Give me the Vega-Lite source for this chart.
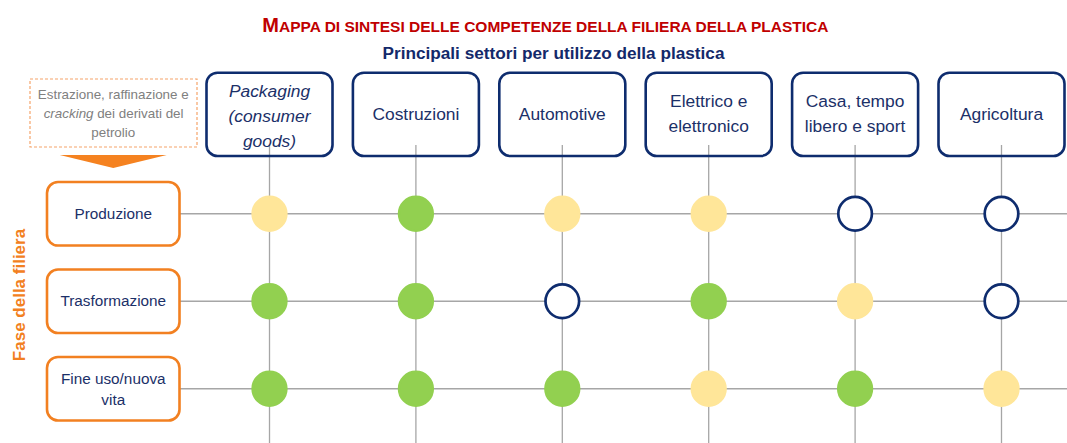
{
  "$schema": "https://vega.github.io/schema/vega-lite/v6.json",
  "width": 887,
  "height": 298,
  "autosize": "none",
  "padding": {"left": 180, "top": 145, "right": 0, "bottom": 0},
  "background": "white",
  "config": {"view": {"stroke": null}, "font": "Liberation Sans, Arial, sans-serif"},
  "datasets": {
    "settori": [
      {"settore": "Packaging", "etichetta": "Packaging\n(consumer\ngoods)", "corsivo": true},
      {"settore": "Costruzioni", "etichetta": "Costruzioni", "corsivo": false},
      {"settore": "Automotive", "etichetta": "Automotive", "corsivo": false},
      {"settore": "Elettrico e elettronico", "etichetta": "Elettrico e\nelettronico", "corsivo": false},
      {"settore": "Casa, tempo libero e sport", "etichetta": "Casa, tempo\nlibero e sport", "corsivo": false},
      {"settore": "Agricoltura", "etichetta": "Agricoltura", "corsivo": false}
    ],
    "fasi": [
      {"fase": "Produzione", "etichetta": "Produzione"},
      {"fase": "Trasformazione", "etichetta": "Trasformazione"},
      {"fase": "Fine uso/nuova vita", "etichetta": "Fine uso/nuova\nvita"}
    ],
    "cerchi": [
      {"fase": "Produzione", "settore": "Packaging", "livello": "Media"},
      {"fase": "Produzione", "settore": "Costruzioni", "livello": "Alta"},
      {"fase": "Produzione", "settore": "Automotive", "livello": "Media"},
      {"fase": "Produzione", "settore": "Elettrico e elettronico", "livello": "Media"},
      {"fase": "Produzione", "settore": "Casa, tempo libero e sport", "livello": "Bassa"},
      {"fase": "Produzione", "settore": "Agricoltura", "livello": "Bassa"},
      {"fase": "Trasformazione", "settore": "Packaging", "livello": "Alta"},
      {"fase": "Trasformazione", "settore": "Costruzioni", "livello": "Alta"},
      {"fase": "Trasformazione", "settore": "Automotive", "livello": "Bassa"},
      {"fase": "Trasformazione", "settore": "Elettrico e elettronico", "livello": "Alta"},
      {"fase": "Trasformazione", "settore": "Casa, tempo libero e sport", "livello": "Media"},
      {"fase": "Trasformazione", "settore": "Agricoltura", "livello": "Bassa"},
      {"fase": "Fine uso/nuova vita", "settore": "Packaging", "livello": "Alta"},
      {"fase": "Fine uso/nuova vita", "settore": "Costruzioni", "livello": "Alta"},
      {"fase": "Fine uso/nuova vita", "settore": "Automotive", "livello": "Alta"},
      {"fase": "Fine uso/nuova vita", "settore": "Elettrico e elettronico", "livello": "Media"},
      {"fase": "Fine uso/nuova vita", "settore": "Casa, tempo libero e sport", "livello": "Alta"},
      {"fase": "Fine uso/nuova vita", "settore": "Agricoltura", "livello": "Media"}
    ]
  },
  "resolve": {"scale": {"x": "independent", "y": "independent"}},
  "layer": [
    {
      "data": {"name": "settori"},
      "mark": {"type": "rule", "color": "#A6A6A6", "strokeWidth": 1.3},
      "encoding": {
        "x": {"field": "settore", "type": "nominal", "axis": null,
              "scale": {"type": "band", "domain": ["Packaging", "Costruzioni", "Automotive", "Elettrico e elettronico", "Casa, tempo libero e sport", "Agricoltura"], "range": [26.5, 884.5], "paddingInner": 0.1393, "paddingOuter": 0}}
      }
    },
    {
      "data": {"name": "fasi"},
      "mark": {"type": "rule", "color": "#A6A6A6", "strokeWidth": 1.3},
      "encoding": {
        "y": {"field": "fase", "type": "nominal", "axis": null,
              "scale": {"type": "band", "domain": ["Produzione", "Trasformazione", "Fine uso/nuova vita"], "range": [37, 275.5], "paddingInner": 0.274, "paddingOuter": 0}}
      }
    },
    {
      "data": {"name": "settori"},
      "mark": {"type": "rect", "fill": "transparent", "stroke": "#0E2C6E", "strokeWidth": 2.6, "cornerRadius": 11},
      "encoding": {
        "x": {"field": "settore", "type": "nominal", "axis": null,
              "scale": {"type": "band", "domain": ["Packaging", "Costruzioni", "Automotive", "Elettrico e elettronico", "Casa, tempo libero e sport", "Agricoltura"], "range": [26.5, 884.5], "paddingInner": 0.1393, "paddingOuter": 0}},
        "y": {"datum": "Settori", "type": "nominal", "axis": null,
              "scale": {"type": "band", "domain": ["Settori"], "range": [-72.3, 11], "paddingInner": 0, "paddingOuter": 0}}
      }
    },
    {
      "data": {"name": "settori"},
      "transform": [{"filter": "datum.corsivo == false && indexof(datum.etichetta, '\\n') < 0"}],
      "mark": {"type": "text", "color": "#1B3068", "fontSize": 17.4, "lineHeight": 23, "lineBreak": "\n", "align": "center", "baseline": "middle", "dy": 1},
      "encoding": {
        "x": {"field": "settore", "type": "nominal", "axis": null,
              "scale": {"type": "band", "domain": ["Packaging", "Costruzioni", "Automotive", "Elettrico e elettronico", "Casa, tempo libero e sport", "Agricoltura"], "range": [26.5, 884.5], "paddingInner": 0.1393, "paddingOuter": 0}},
        "y": {"datum": "Settori", "type": "nominal", "axis": null,
              "scale": {"type": "band", "domain": ["Settori"], "range": [-72.3, 11], "paddingInner": 0, "paddingOuter": 0}},
        "text": {"field": "etichetta"}
      }
    },
    {
      "data": {"name": "settori"},
      "transform": [{"filter": "datum.corsivo == false && indexof(datum.etichetta, '\\n') >= 0"}],
      "mark": {"type": "text", "color": "#1B3068", "fontSize": 17.4, "lineHeight": 25, "lineBreak": "\n", "align": "center", "baseline": "middle", "dy": -12},
      "encoding": {
        "x": {"field": "settore", "type": "nominal", "axis": null,
              "scale": {"type": "band", "domain": ["Packaging", "Costruzioni", "Automotive", "Elettrico e elettronico", "Casa, tempo libero e sport", "Agricoltura"], "range": [26.5, 884.5], "paddingInner": 0.1393, "paddingOuter": 0}},
        "y": {"datum": "Settori", "type": "nominal", "axis": null,
              "scale": {"type": "band", "domain": ["Settori"], "range": [-72.3, 11], "paddingInner": 0, "paddingOuter": 0}},
        "text": {"field": "etichetta"}
      }
    },
    {
      "data": {"name": "settori"},
      "transform": [{"filter": "datum.corsivo == true"}],
      "mark": {"type": "text", "color": "#1B3068", "fontSize": 17.4, "fontStyle": "italic", "lineHeight": 25, "lineBreak": "\n", "align": "center", "baseline": "middle", "dy": -22},
      "encoding": {
        "x": {"field": "settore", "type": "nominal", "axis": null,
              "scale": {"type": "band", "domain": ["Packaging", "Costruzioni", "Automotive", "Elettrico e elettronico", "Casa, tempo libero e sport", "Agricoltura"], "range": [26.5, 884.5], "paddingInner": 0.1393, "paddingOuter": 0}},
        "y": {"datum": "Settori", "type": "nominal", "axis": null,
              "scale": {"type": "band", "domain": ["Settori"], "range": [-72.3, 11], "paddingInner": 0, "paddingOuter": 0}},
        "text": {"field": "etichetta"}
      }
    },
    {
      "data": {"name": "fasi"},
      "mark": {"type": "rect", "fill": "white", "stroke": "#F28021", "strokeWidth": 2.6, "cornerRadius": 11},
      "encoding": {
        "x": {"datum": "Fase", "type": "nominal", "axis": null,
              "scale": {"type": "band", "domain": ["Fase"], "range": [-133, -0.5], "paddingInner": 0, "paddingOuter": 0}},
        "y": {"field": "fase", "type": "nominal", "axis": null,
              "scale": {"type": "band", "domain": ["Produzione", "Trasformazione", "Fine uso/nuova vita"], "range": [37, 275.5], "paddingInner": 0.274, "paddingOuter": 0}}
      }
    },
    {
      "data": {"name": "fasi"},
      "transform": [{"filter": "indexof(datum.etichetta, '\\n') < 0"}],
      "mark": {"type": "text", "color": "#1B3068", "fontSize": 15.3, "lineHeight": 21, "lineBreak": "\n", "align": "center", "baseline": "middle"},
      "encoding": {
        "x": {"datum": "Fase", "type": "nominal", "axis": null,
              "scale": {"type": "band", "domain": ["Fase"], "range": [-133, -0.5], "paddingInner": 0, "paddingOuter": 0}},
        "y": {"field": "fase", "type": "nominal", "axis": null,
              "scale": {"type": "band", "domain": ["Produzione", "Trasformazione", "Fine uso/nuova vita"], "range": [37, 275.5], "paddingInner": 0.274, "paddingOuter": 0}},
        "text": {"field": "etichetta"}
      }
    },
    {
      "data": {"name": "fasi"},
      "transform": [{"filter": "indexof(datum.etichetta, '\\n') >= 0"}],
      "mark": {"type": "text", "color": "#1B3068", "fontSize": 15.3, "lineHeight": 21, "lineBreak": "\n", "align": "center", "baseline": "middle", "dy": -10},
      "encoding": {
        "x": {"datum": "Fase", "type": "nominal", "axis": null,
              "scale": {"type": "band", "domain": ["Fase"], "range": [-133, -0.5], "paddingInner": 0, "paddingOuter": 0}},
        "y": {"field": "fase", "type": "nominal", "axis": null,
              "scale": {"type": "band", "domain": ["Produzione", "Trasformazione", "Fine uso/nuova vita"], "range": [37, 275.5], "paddingInner": 0.274, "paddingOuter": 0}},
        "text": {"field": "etichetta"}
      }
    },
    {
      "data": {"name": "cerchi"},
      "mark": {"type": "point", "shape": "circle", "size": 1130, "strokeWidth": 2.7, "opacity": 1, "fillOpacity": 1, "filled": true},
      "encoding": {
        "x": {"field": "settore", "type": "nominal", "axis": null,
              "scale": {"type": "band", "domain": ["Packaging", "Costruzioni", "Automotive", "Elettrico e elettronico", "Casa, tempo libero e sport", "Agricoltura"], "range": [26.5, 884.5], "paddingInner": 0.1393, "paddingOuter": 0}},
        "y": {"field": "fase", "type": "nominal", "axis": null,
              "scale": {"type": "band", "domain": ["Produzione", "Trasformazione", "Fine uso/nuova vita"], "range": [37, 275.5], "paddingInner": 0.274, "paddingOuter": 0}},
        "fill": {"field": "livello", "type": "nominal", "legend": null,
                 "scale": {"domain": ["Alta", "Media", "Bassa"], "range": ["#92D050", "#FFE699", "#FFFFFF"]}},
        "stroke": {"field": "livello", "type": "nominal", "legend": null,
                   "scale": {"domain": ["Alta", "Media", "Bassa"], "range": ["#92D050", "#FFE699", "#0E2C6E"]}}
      }
    },
    {
      "data": {"values": [{"testo": "Fase della filiera"}]},
      "mark": {"type": "text", "color": "#F28021", "fontSize": 17, "fontWeight": "bold", "angle": 270, "align": "center", "baseline": "middle"},
      "encoding": {
        "x": {"datum": "asse", "type": "nominal", "axis": null,
              "scale": {"type": "band", "domain": ["asse"], "range": [-162, -158], "paddingInner": 0, "paddingOuter": 0}},
        "y": {"datum": "asse", "type": "nominal", "axis": null,
              "scale": {"type": "band", "domain": ["asse"], "range": [148, 152], "paddingInner": 0, "paddingOuter": 0}},
        "text": {"field": "testo"}
      }
    },
    {
      "data": {"values": [{"elemento": "nota"}]},
      "mark": {"type": "rect", "fill": "transparent", "stroke": "#F5A46A", "strokeWidth": 1.2, "strokeDash": [3, 2]},
      "encoding": {
        "x": {"datum": "nota", "type": "nominal", "axis": null,
              "scale": {"type": "band", "domain": ["nota"], "range": [-150, 17], "paddingInner": 0, "paddingOuter": 0}},
        "y": {"datum": "nota", "type": "nominal", "axis": null,
              "scale": {"type": "band", "domain": ["nota"], "range": [-66, 2], "paddingInner": 0, "paddingOuter": 0}}
      }
    },
    {
      "data": {"values": [{"riga": "r1", "testo": "Estrazione, raffinazione e"}, {"riga": "r3", "testo": "petrolio"}]},
      "mark": {"type": "text", "color": "#808080", "fontSize": 13.4, "align": "center", "baseline": "middle"},
      "encoding": {
        "x": {"datum": "Fase", "type": "nominal", "axis": null,
              "scale": {"type": "band", "domain": ["Fase"], "range": [-133, -0.5], "paddingInner": 0, "paddingOuter": 0}},
        "y": {"field": "riga", "type": "nominal", "axis": null,
              "scale": {"type": "point", "domain": ["r1", "r2", "r3"], "range": [-50, -12], "padding": 0}},
        "text": {"field": "testo"}
      }
    },
    {
      "data": {"values": [{"riga": "r2", "testo": "cracking"}]},
      "mark": {"type": "text", "color": "#808080", "fontSize": 13.4, "fontStyle": "italic", "align": "right", "baseline": "middle", "dx": -19.7},
      "encoding": {
        "x": {"datum": "Fase", "type": "nominal", "axis": null,
              "scale": {"type": "band", "domain": ["Fase"], "range": [-133, -0.5], "paddingInner": 0, "paddingOuter": 0}},
        "y": {"field": "riga", "type": "nominal", "axis": null,
              "scale": {"type": "point", "domain": ["r1", "r2", "r3"], "range": [-50, -12], "padding": 0}},
        "text": {"field": "testo"}
      }
    },
    {
      "data": {"values": [{"riga": "r2", "testo": "dei derivati del"}]},
      "mark": {"type": "text", "color": "#808080", "fontSize": 13.4, "align": "left", "baseline": "middle", "dx": -16.1},
      "encoding": {
        "x": {"datum": "Fase", "type": "nominal", "axis": null,
              "scale": {"type": "band", "domain": ["Fase"], "range": [-133, -0.5], "paddingInner": 0, "paddingOuter": 0}},
        "y": {"field": "riga", "type": "nominal", "axis": null,
              "scale": {"type": "point", "domain": ["r1", "r2", "r3"], "range": [-50, -12], "padding": 0}},
        "text": {"field": "testo"}
      }
    },
    {
      "data": {"values": [{"elemento": "freccia"}]},
      "mark": {"type": "point", "shape": "M-1,-0.12L1,-0.12L0,0.12Z", "size": 11449, "filled": true, "fill": "#F58220", "strokeWidth": 0, "opacity": 1},
      "encoding": {
        "x": {"datum": "Fase", "type": "nominal", "axis": null,
              "scale": {"type": "band", "domain": ["Fase"], "range": [-133, -0.5], "paddingInner": 0, "paddingOuter": 0}},
        "y": {"datum": "freccia", "type": "nominal", "axis": null,
              "scale": {"type": "band", "domain": ["freccia"], "range": [15, 18], "paddingInner": 0, "paddingOuter": 0}}
      }
    },
    {
      "data": {"values": [{"testo": "M"}]},
      "mark": {"type": "text", "color": "#C00000", "fontSize": 20, "fontWeight": "bold", "align": "right", "baseline": "alphabetic"},
      "encoding": {
        "x": {"datum": "titolo", "type": "nominal", "axis": null,
              "scale": {"type": "band", "domain": ["titolo"], "range": [98, 100], "paddingInner": 0, "paddingOuter": 0}},
        "y": {"datum": "titolo", "type": "nominal", "axis": null,
              "scale": {"type": "band", "domain": ["titolo"], "range": [-114.5, -112.5], "paddingInner": 0, "paddingOuter": 0}},
        "text": {"field": "testo"}
      }
    },
    {
      "data": {"values": [{"testo": "APPA DI SINTESI DELLE COMPETENZE DELLA FILIERA DELLA PLASTICA"}]},
      "mark": {"type": "text", "color": "#C00000", "fontSize": 15.5, "fontWeight": "bold", "align": "left", "baseline": "alphabetic"},
      "encoding": {
        "x": {"datum": "titolo", "type": "nominal", "axis": null,
              "scale": {"type": "band", "domain": ["titolo"], "range": [98, 100], "paddingInner": 0, "paddingOuter": 0}},
        "y": {"datum": "titolo", "type": "nominal", "axis": null,
              "scale": {"type": "band", "domain": ["titolo"], "range": [-114.5, -112.5], "paddingInner": 0, "paddingOuter": 0}},
        "text": {"field": "testo"}
      }
    },
    {
      "data": {"values": [{"testo": "Principali settori per utilizzo della plastica"}]},
      "mark": {"type": "text", "color": "#13296A", "fontSize": 17.2, "fontWeight": "bold", "align": "center", "baseline": "alphabetic"},
      "encoding": {
        "x": {"datum": "sottotitolo", "type": "nominal", "axis": null,
              "scale": {"type": "band", "domain": ["sottotitolo"], "range": [372.5, 374.5], "paddingInner": 0, "paddingOuter": 0}},
        "y": {"datum": "sottotitolo", "type": "nominal", "axis": null,
              "scale": {"type": "band", "domain": ["sottotitolo"], "range": [-87, -85], "paddingInner": 0, "paddingOuter": 0}},
        "text": {"field": "testo"}
      }
    }
  ]
}
